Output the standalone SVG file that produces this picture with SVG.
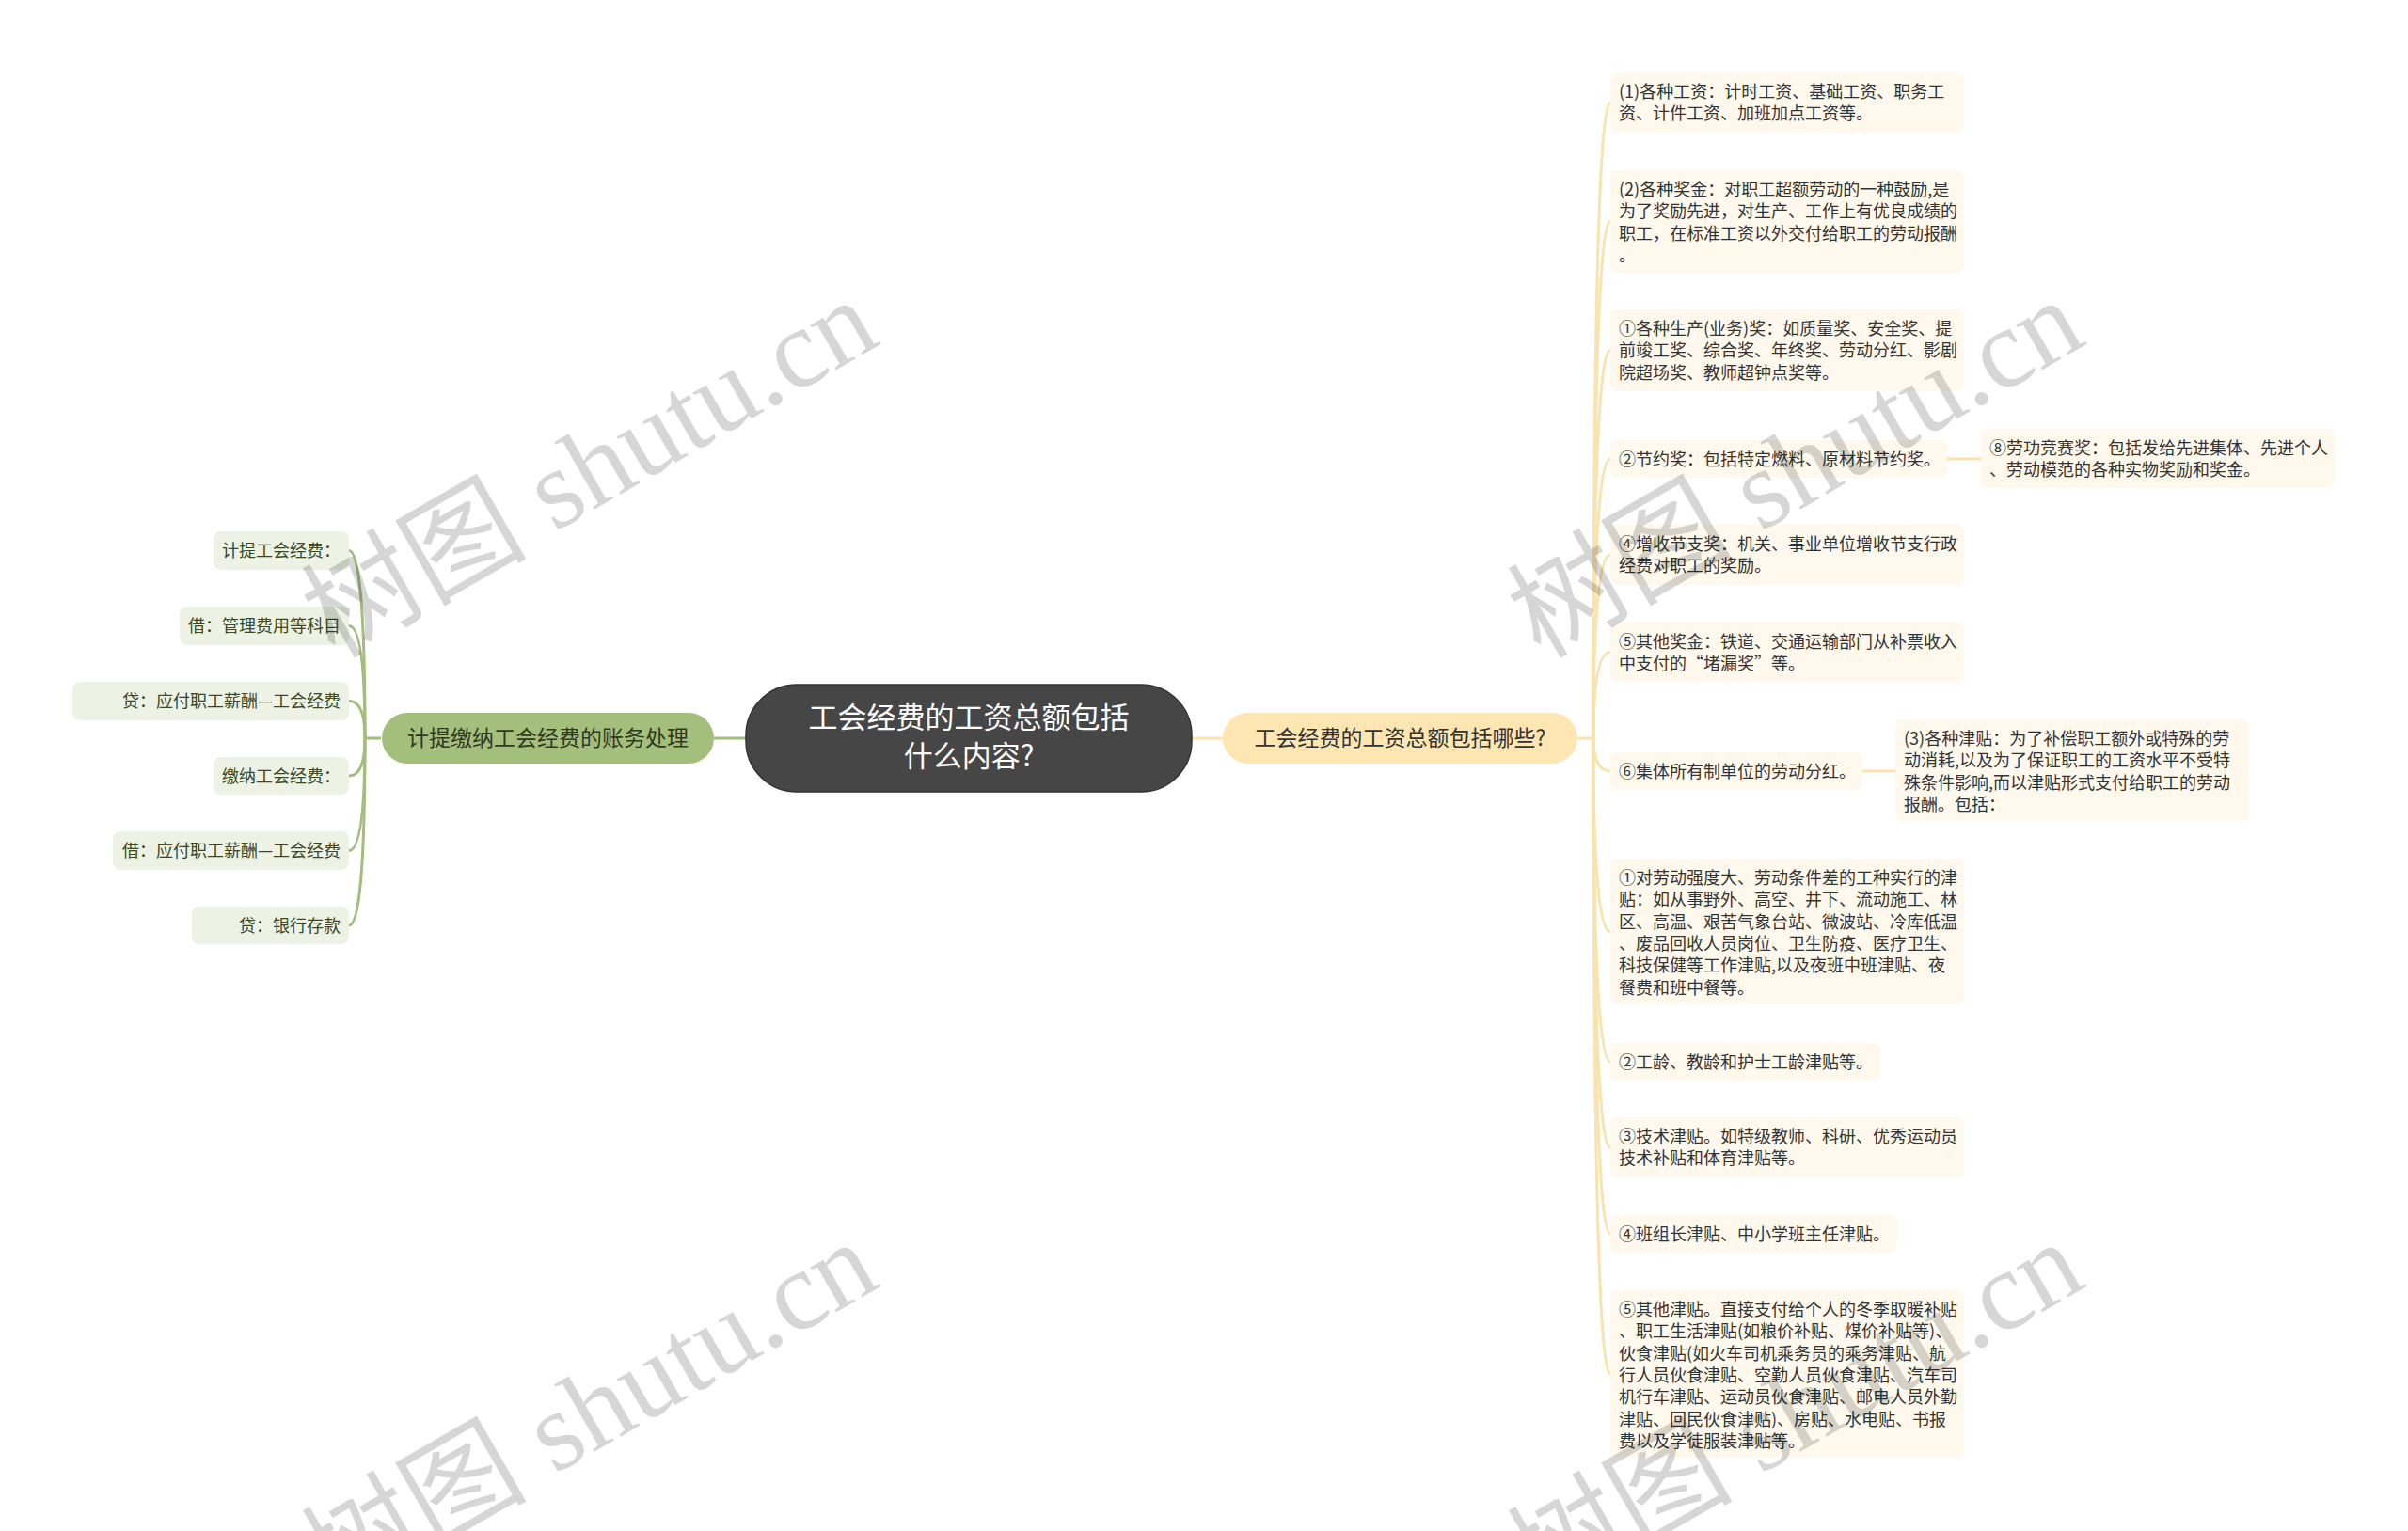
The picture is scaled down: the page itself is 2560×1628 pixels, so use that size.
<svg xmlns="http://www.w3.org/2000/svg" width="2560" height="1628" viewBox="0 0 2560 1628">
<style>
text{font-family:"Noto Sans CJK SC","Noto Sans",sans-serif}
.rl{fill:#FEF9EC}
.ll{fill:#EEF2E4}
.rt{font-size:18px;fill:#333333}
.lt{font-size:18px;fill:#3A4824;text-anchor:end}
.cg{fill:none;stroke:#A3BD7C;stroke-width:3}
.cy{fill:none;stroke:#F9E3AE;stroke-width:3}
.wm{font-family:"Liberation Serif","Noto Sans CJK SC",serif;font-size:120px;fill:#000;fill-opacity:0.16;text-anchor:middle}
</style>
<rect width="2560" height="1628" fill="#ffffff"/>

<g id="connectors">
  <path class="cg" d="M793,785 L759,785"/>
  <path class="cy" d="M1267,785 L1300,785"/>
  <path class="cg" d="M405,785 L388,785"/>
  <path class="cg" d="M388,785 Q388,585.5 371,585.5"/>
  <path class="cg" d="M388,785 Q388,665.5 371,665.5"/>
  <path class="cg" d="M388,785 Q388,745.5 371,745.5"/>
  <path class="cg" d="M388,785 Q388,825 371,825"/>
  <path class="cg" d="M388,785 Q388,904.5 371,904.5"/>
  <path class="cg" d="M388,785 Q388,984 371,984"/>
  <path class="cy" d="M1677,785 L1694,785"/>
  <path class="cy" d="M1694,785 Q1694,109 1712,109"/>
  <path class="cy" d="M1694,785 Q1694,235.5 1712,235.5"/>
  <path class="cy" d="M1694,785 Q1694,372.5 1712,372.5"/>
  <path class="cy" d="M1694,785 Q1694,488 1712,488"/>
  <path class="cy" d="M1694,785 Q1694,590 1712,590"/>
  <path class="cy" d="M1694,785 Q1694,693.5 1712,693.5"/>
  <path class="cy" d="M1694,785 Q1694,820 1712,820"/>
  <path class="cy" d="M1694,785 Q1694,990.5 1712,990.5"/>
  <path class="cy" d="M1694,785 Q1694,1129 1712,1129"/>
  <path class="cy" d="M1694,785 Q1694,1220 1712,1220"/>
  <path class="cy" d="M1694,785 Q1694,1312 1712,1312"/>
  <path class="cy" d="M1694,785 Q1694,1461 1712,1461"/>
  <path class="cy" d="M2070,488 L2106,488"/>
  <path class="cy" d="M1980,820 L2015,820"/>
</g>

<g id="center">
  <rect x="793" y="728" width="474" height="114" rx="54" fill="#464646" stroke="#333333" stroke-width="1.5"/>
  <text x="1030" y="774" font-size="31" fill="#ffffff" text-anchor="middle">工会经费的工资总额包括</text>
  <text x="1030" y="815" font-size="31" fill="#ffffff" text-anchor="middle">什么内容?</text>
</g>

<g id="branch-left">
  <rect x="406" y="758" width="353" height="54" rx="27" fill="#A4BE7C"/>
  <text x="582.5" y="793" font-size="23" fill="#2F3A1E" text-anchor="middle">计提缴纳工会经费的账务处理</text>
</g>

<g id="branch-right">
  <rect x="1300" y="758" width="377" height="54" rx="27" fill="#FDE6B2"/>
  <text x="1488.5" y="793" font-size="23" fill="#333333" text-anchor="middle">工会经费的工资总额包括哪些?</text>
</g>

<g id="l1"><rect class="ll" x="227" y="565" width="144" height="41" rx="8"/><text class="lt" x="362" y="592">计提工会经费：</text></g>
<g id="l2"><rect class="ll" x="191" y="645" width="180" height="41" rx="8"/><text class="lt" x="362" y="672">借：管理费用等科目</text></g>
<g id="l3"><rect class="ll" x="77" y="725" width="294" height="41" rx="8"/><text class="lt" x="362" y="752">贷：应付职工薪酬—工会经费</text></g>
<g id="l4"><rect class="ll" x="227" y="805" width="144" height="40" rx="8"/><text class="lt" x="362" y="831.5">缴纳工会经费：</text></g>
<g id="l5"><rect class="ll" x="120" y="884" width="251" height="41" rx="8"/><text class="lt" x="362" y="911">借：应付职工薪酬—工会经费</text></g>
<g id="l6"><rect class="ll" x="204" y="964" width="167" height="40" rx="8"/><text class="lt" x="362" y="990.5">贷：银行存款</text></g>

<g id="r1"><rect class="rl" x="1712" y="77" width="376" height="64" rx="8"/>
<text class="rt" x="1721" y="104"><tspan x="1721">(1)各种工资：计时工资、基础工资、职务工</tspan><tspan x="1721" dy="23.3">资、计件工资、加班加点工资等。</tspan></text></g>
<g id="r2"><rect class="rl" x="1712" y="181" width="376" height="109" rx="8"/>
<text class="rt" x="1721" y="208"><tspan x="1721">(2)各种奖金：对职工超额劳动的一种鼓励,是</tspan><tspan x="1721" dy="23.3">为了奖励先进，对生产、工作上有优良成绩的</tspan><tspan x="1721" dy="23.3">职工，在标准工资以外交付给职工的劳动报酬</tspan><tspan x="1721" dy="23.3">。</tspan></text></g>
<g id="r3"><rect class="rl" x="1712" y="329" width="376" height="87" rx="8"/>
<text class="rt" x="1721" y="356"><tspan x="1721">①各种生产(业务)奖：如质量奖、安全奖、提</tspan><tspan x="1721" dy="23.3">前竣工奖、综合奖、年终奖、劳动分红、影剧</tspan><tspan x="1721" dy="23.3">院超场奖、教师超钟点奖等。</tspan></text></g>
<g id="r4"><rect class="rl" x="1712" y="468" width="358" height="40" rx="8"/>
<text class="rt" x="1721" y="495">②节约奖：包括特定燃料、原材料节约奖。</text></g>
<g id="r4a"><rect class="rl" x="2106" y="456" width="376" height="63" rx="8"/>
<text class="rt" x="2115" y="483"><tspan x="2115">⑧劳功竞赛奖：包括发给先进集体、先进个人</tspan><tspan x="2115" dy="23.3">、劳动模范的各种实物奖励和奖金。</tspan></text></g>
<g id="r5"><rect class="rl" x="1712" y="558" width="376" height="64" rx="8"/>
<text class="rt" x="1721" y="585"><tspan x="1721">④增收节支奖：机关、事业单位增收节支行政</tspan><tspan x="1721" dy="23.3">经费对职工的奖励。</tspan></text></g>
<g id="r6"><rect class="rl" x="1712" y="662" width="376" height="63" rx="8"/>
<text class="rt" x="1721" y="689"><tspan x="1721">⑤其他奖金：铁道、交通运输部门从补票收入</tspan><tspan x="1721" dy="23.3">中支付的“堵漏奖”等。</tspan></text></g>
<g id="r7"><rect class="rl" x="1712" y="800" width="268" height="40" rx="8"/>
<text class="rt" x="1721" y="827">⑥集体所有制单位的劳动分红。</text></g>
<g id="r7a"><rect class="rl" x="2015" y="765" width="376" height="108" rx="8"/>
<text class="rt" x="2024" y="792"><tspan x="2024">(3)各种津贴：为了补偿职工额外或特殊的劳</tspan><tspan x="2024" dy="23.3">动消耗,以及为了保证职工的工资水平不受特</tspan><tspan x="2024" dy="23.3">殊条件影响,而以津贴形式支付给职工的劳动</tspan><tspan x="2024" dy="23.3">报酬。包括：</tspan></text></g>
<g id="r8"><rect class="rl" x="1712" y="913" width="376" height="155" rx="8"/>
<text class="rt" x="1721" y="940"><tspan x="1721">①对劳动强度大、劳动条件差的工种实行的津</tspan><tspan x="1721" dy="23.3">贴：如从事野外、高空、井下、流动施工、林</tspan><tspan x="1721" dy="23.3">区、高温、艰苦气象台站、微波站、冷库低温</tspan><tspan x="1721" dy="23.3">、废品回收人员岗位、卫生防疫、医疗卫生、</tspan><tspan x="1721" dy="23.3">科技保健等工作津贴,以及夜班中班津贴、夜</tspan><tspan x="1721" dy="23.3">餐费和班中餐等。</tspan></text></g>
<g id="r9"><rect class="rl" x="1712" y="1109" width="287" height="40" rx="8"/>
<text class="rt" x="1721" y="1136">②工龄、教龄和护士工龄津贴等。</text></g>
<g id="r10"><rect class="rl" x="1712" y="1188" width="376" height="64" rx="8"/>
<text class="rt" x="1721" y="1215"><tspan x="1721">③技术津贴。如特级教师、科研、优秀运动员</tspan><tspan x="1721" dy="23.3">技术补贴和体育津贴等。</tspan></text></g>
<g id="r11"><rect class="rl" x="1712" y="1292" width="305" height="40" rx="8"/>
<text class="rt" x="1721" y="1319">④班组长津贴、中小学班主任津贴。</text></g>
<g id="r12"><rect class="rl" x="1712" y="1372" width="376" height="178" rx="8"/>
<text class="rt" x="1721" y="1399"><tspan x="1721">⑤其他津贴。直接支付给个人的冬季取暖补贴</tspan><tspan x="1721" dy="23.3">、职工生活津贴(如粮价补贴、煤价补贴等)、</tspan><tspan x="1721" dy="23.3">伙食津贴(如火车司机乘务员的乘务津贴、航</tspan><tspan x="1721" dy="23.3">行人员伙食津贴、空勤人员伙食津贴、汽车司</tspan><tspan x="1721" dy="23.3">机行车津贴、运动员伙食津贴、邮电人员外勤</tspan><tspan x="1721" dy="23.3">津贴、回民伙食津贴)、房贴、水电贴、书报</tspan><tspan x="1721" dy="23.3">费以及学徒服装津贴等。</tspan></text></g>

<g id="watermarks">
  <text class="wm" x="647" y="533" transform="rotate(-30 647 533)">树图 shutu.cn</text>
  <text class="wm" x="1929" y="533" transform="rotate(-30 1929 533)">树图 shutu.cn</text>
  <text class="wm" x="647" y="1535" transform="rotate(-30 647 1535)">树图 shutu.cn</text>
  <text class="wm" x="1929" y="1535" transform="rotate(-30 1929 1535)">树图 shutu.cn</text>
</g>
</svg>
